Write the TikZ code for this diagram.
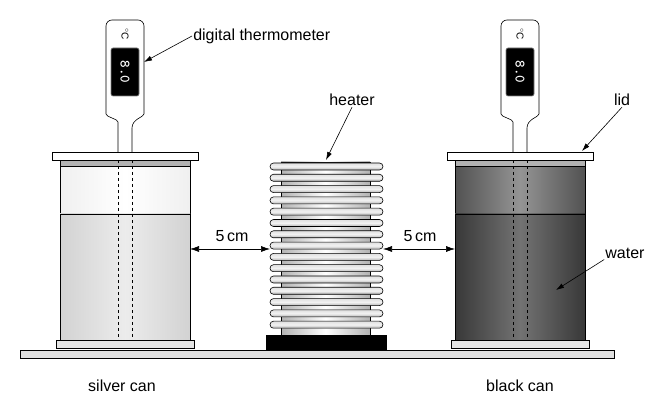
\documentclass[tikz,border=0pt]{standalone}
\usepackage{fontspec}
\setmainfont{Liberation Sans}
\usetikzlibrary{arrows.meta}
\begin{document}
\begin{tikzpicture}[x=1pt,y=-1pt,line width=0.6pt,font=\fontsize{16}{18}\selectfont,
  label/.style={inner sep=1pt},
  pointer/.style={-{Latex[length=8pt,width=5pt]}},
  gap/.style={{Latex[length=9pt,width=6pt]}-{Latex[length=9pt,width=6pt]}},
  coil/.style={draw,rounded corners=3.5pt,top color=gray!25,bottom color=gray!60,middle color=gray!10}]
\useasboundingbox (0,0) rectangle (670,403);
% table
\draw[fill=gray!25] (20,350) rectangle (614,358);
% cans
\foreach \cx/\ta/\tb/\wa/\wb in {125/gray!12/white/gray!35/gray!15, 520/black!68/black!42/black!78/black!55}{
  \draw[left color=\ta,right color=\ta,middle color=\tb] (\cx-65,166) rectangle (\cx+65,214);
  \draw[left color=\wa,right color=\wa,middle color=\wb] (\cx-65,214) rectangle (\cx+65,340);
  \draw[fill=gray!60] (\cx-65,160) rectangle (\cx+65,166);
  \draw[fill=gray!20] (\cx-69,340) rectangle (\cx+69,348);
  \draw[dashed] (\cx-7,160) -- (\cx-7,340) (\cx+7,160) -- (\cx+7,340);
  \draw (\cx-7,340) -- (\cx+7,340);
  \draw[fill=white] (\cx-73,152) rectangle (\cx+73,160);
  % thermometer
  \draw[fill=white,rounded corners=6pt] (\cx-7,152) -- (\cx-7,128) to[out=90,in=-90] (\cx-19,108)
     -- (\cx-19,20) -- (\cx+19,20) -- (\cx+19,108)
     [sharp corners] to[out=-90,in=90] (\cx+7,128) -- (\cx+7,152);
  \draw[fill=black,draw=gray,rounded corners=2pt] (\cx-14,48) rectangle (\cx+14,96);
  \node[white,rotate=-90,font=\ttfamily\bfseries\Large] at (\cx,72) {8.0};
  \node[rotate=-90,font=\normalsize] at (\cx,34) {$^\circ$C};
}
% heater
\draw[fill=black] (266,335) rectangle (386,350);
\draw[left color=gray!60,right color=gray!60,middle color=white] (281,162) rectangle (370,335);
\foreach \i in {0,...,14}
  \draw[coil] (270,163+11.3*\i) rectangle (383,170+11.3*\i);
% labels
\node[label,anchor=west] (dt) at (192,36) {digital thermometer};
\draw[pointer] (dt.west) -- (144,62);
\node[label] (ht) at (352,100) {heater};
\draw[pointer] (ht.south) -- (326,160);
\node[label] (ld) at (622,100) {lid};
\draw[pointer] (ld.south) -- (582,151);
\node[label] (wt) at (625,253) {water};
\draw[pointer] (wt.south west) -- (556,290);
\node[label] (d1) at (232,236) {5\,cm};
\draw[gap] (190,249) -- (270,249);
\node[label] (d2) at (420,236) {5\,cm};
\draw[gap] (383,249) -- (455,249);
\node[label] (sc) at (122,386) {silver can};
\node[label] (bc) at (520,386) {black can};
\end{tikzpicture}
\end{document}
